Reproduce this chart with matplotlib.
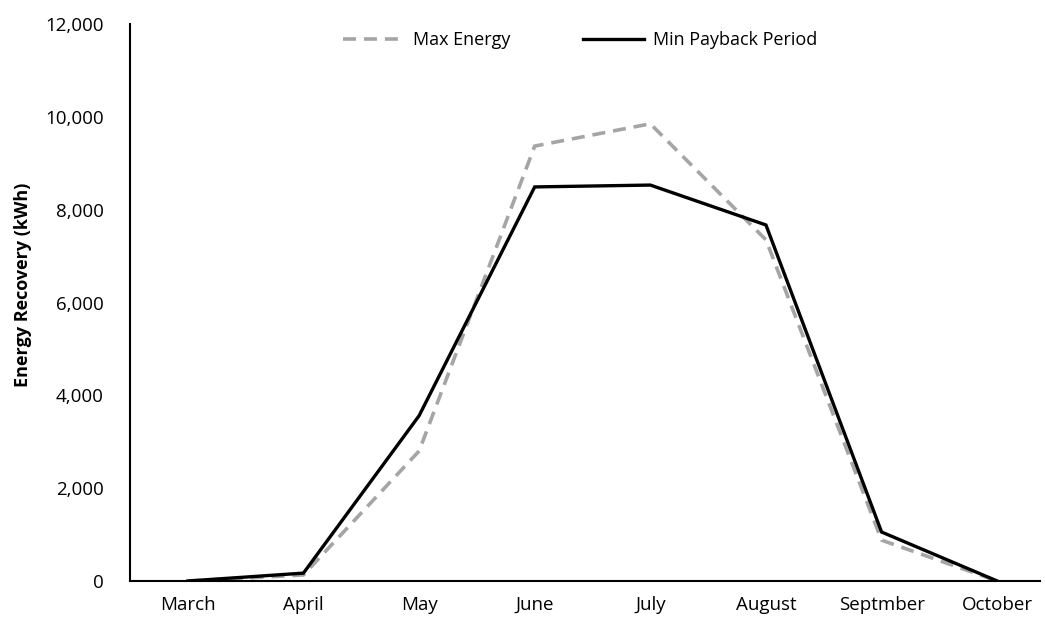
import matplotlib
matplotlib.use("Agg")
import matplotlib.pyplot as plt
from matplotlib.ticker import FuncFormatter

months = ["March", "April", "May", "June", "July", "August", "Septmber", "October"]
max_energy = [0, 130, 2800, 9370, 9850, 7350, 880, 0]
min_payback = [0, 170, 3560, 8490, 8530, 7670, 1055, 0]

plt.rcParams["font.family"] = ["Open Sans", "DejaVu Sans"]

fig = plt.figure(figsize=(10.45, 6.21), dpi=100)
ax = fig.add_axes([130 / 1045, 1 - 581 / 621, 910 / 1045, 557 / 621])

x = list(range(len(months)))
ax.plot(x, max_energy, color="#A5A5A5", lw=2.6, linestyle=(0, (3.6, 2.2)),
        label="Max Energy", solid_capstyle="butt", dash_capstyle="butt")
ax.plot(x, min_payback, color="black", lw=2.4, label="Min Payback Period",
        solid_joinstyle="miter")

ax.set_xlim(-0.5, 7.37)
ax.set_ylim(0, 12000)
ax.set_yticks(range(0, 12001, 2000))
ax.yaxis.set_major_formatter(FuncFormatter(lambda v, p: f"{int(v):,}"))
ax.set_xticks(x)
ax.set_xticklabels(months)
ax.tick_params(axis="both", length=0, labelsize=13.5, colors="black")
ax.tick_params(axis="x", pad=11)
ax.tick_params(axis="y", pad=19)

for s in ["top", "right"]:
    ax.spines[s].set_visible(False)
for s in ["left", "bottom"]:
    ax.spines[s].set_linewidth(1.5)
    ax.spines[s].set_color("black")

ax.set_ylabel("Energy Recovery (kWh)", fontsize=13, fontweight="bold")
ax.yaxis.set_label_coords(-0.108, 0.531)

fig.legend(loc="center", bbox_to_anchor=(580 / 1045, 1 - 40 / 621), ncol=2,
           frameon=False, fontsize=13, handlelength=3.4, columnspacing=4.0,
           handletextpad=0.5)

fig.savefig("out.png", dpi=100)
